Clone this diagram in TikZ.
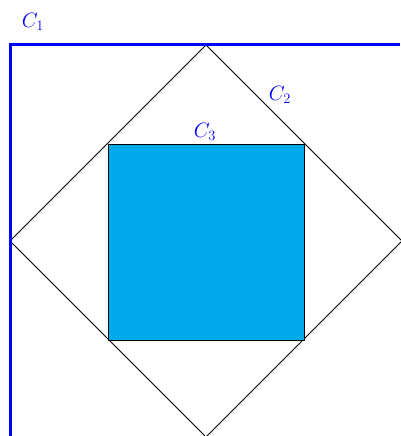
\documentclass[tikz,border=0pt]{standalone}
\definecolor{sqfill}{RGB}{0,170,235}
\begin{document}
\begin{tikzpicture}[x=1pt,y=-1pt,
  lbl/.style={text=blue,font=\huge,inner sep=0pt},
  axisline/.style={blue,line width=3pt},
  outline/.style={black,line width=1pt}]
\useasboundingbox (0,0) rectangle (400,436);
\coordinate (corner) at (10,45);
\coordinate (xend) at (400,45);
\coordinate (yend) at (10,436);
\coordinate (dt) at (206,45);
\coordinate (dl) at (10,241);
\coordinate (dr) at (402,241);
\coordinate (db) at (206,437);
\draw[outline] (dt) -- (dr) -- (db) -- (dl) -- cycle;
\draw[outline,fill=sqfill] (108,144) rectangle (304,340);
\draw[axisline] (xend) -- (corner) -- (yend);
\node[lbl] (c1) at (33,22) {$C_1$};
\node[lbl] (c2) at (280,95) {$C_2$};
\node[lbl] (c3) at (205,132) {$C_3$};
\end{tikzpicture}
\end{document}
